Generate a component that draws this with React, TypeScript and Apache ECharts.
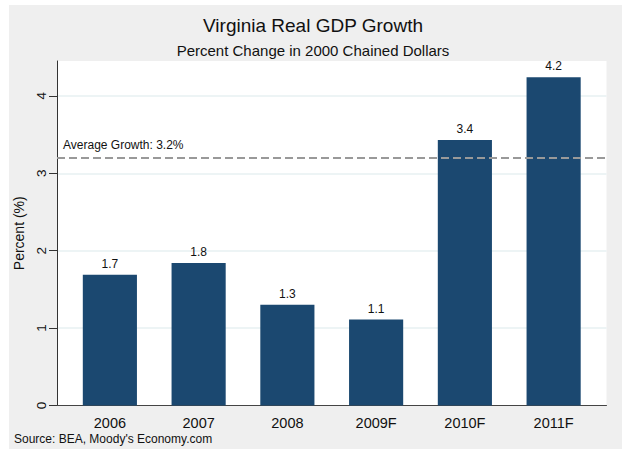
import React, { useEffect, useRef } from "react";
import * as echarts from "echarts";

const categories = ["2006", "2007", "2008", "2009F", "2010F", "2011F"];
const growth = [1.69, 1.84, 1.3, 1.11, 3.43, 4.24];
const averageGrowth = 3.2;
const yTicks = [0, 1, 2, 3, 4];
const titleText = "Virginia Real GDP Growth";
const subtitleText = "Percent Change in 2000 Chained Dollars";
const sourceText = "Source: BEA, Moody's Economy.com";
const yAxisName = "Percent (%)";

const FONT = "'Liberation Sans', Arial, Helvetica, sans-serif";
const Y_MAX = 4.45;

export default function App() {
  const ref = useRef<HTMLDivElement>(null);

  useEffect(() => {
    if (!ref.current) return;
    const chart = echarts.init(ref.current, null, { renderer: "svg" });
    chart.setOption({
      animation: false,
      backgroundColor: "transparent",
      textStyle: { fontFamily: FONT },
      graphic: [
        {
          type: "text",
          x: 313,
          y: 25,
          style: {
            text: titleText,
            fontFamily: FONT,
            fontSize: 19,
            fill: "#111",
            textAlign: "center",
            textVerticalAlign: "middle",
          },
        },
        {
          type: "text",
          x: 313,
          y: 50,
          style: {
            text: subtitleText,
            fontFamily: FONT,
            fontSize: 15,
            fill: "#111",
            textAlign: "center",
            textVerticalAlign: "middle",
          },
        },
        {
          type: "text",
          x: 14,
          y: 439,
          style: {
            text: sourceText,
            fontFamily: FONT,
            fontSize: 12,
            fill: "#111",
            textAlign: "left",
            textVerticalAlign: "middle",
          },
        },
      ],
      grid: [
        {
          left: 57,
          right: 19.5,
          top: 61,
          bottom: 43.5,
          show: true,
          backgroundColor: "#ffffff",
          borderWidth: 0,
        },
        {
          left: 65.5,
          right: 28,
          top: 61,
          bottom: 43.5,
        },
      ],
      xAxis: [
        {
          gridIndex: 0,
          type: "value",
          min: 0,
          max: 1,
          axisLine: { show: true, lineStyle: { color: "#444", width: 1 } },
          axisTick: { show: false },
          axisLabel: { show: false },
          splitLine: { show: false },
        },
        {
          gridIndex: 1,
          type: "category",
          data: categories,
          axisLine: { show: false },
          axisTick: { show: false },
          axisLabel: {
            color: "#111",
            fontSize: 14.5,
            fontFamily: FONT,
            margin: 10,
          },
        },
      ],
      yAxis: [
        {
          gridIndex: 0,
          type: "value",
          min: 0,
          max: Y_MAX,
          interval: 1,
          name: yAxisName,
          nameLocation: "middle",
          nameGap: 21,
          nameRotate: 90,
          nameTextStyle: { color: "#111", fontSize: 14, fontFamily: FONT },
          axisLine: { show: true, lineStyle: { color: "#333", width: 1 } },
          axisTick: {
            show: true,
            length: 8,
            lineStyle: { color: "#333" },
            customValues: yTicks,
          },
          axisLabel: {
            color: "#111",
            fontSize: 13.5,
            fontFamily: FONT,
            rotate: 90,
            margin: 9,
            customValues: yTicks,
          },
          splitLine: {
            show: true,
            showMinLine: false,
            lineStyle: { color: "#e7f0f2", width: 1.5 },
          },
        },
        {
          gridIndex: 1,
          type: "value",
          min: 0,
          max: Y_MAX,
          show: false,
        },
      ],
      series: [
        {
          type: "line",
          xAxisIndex: 0,
          yAxisIndex: 0,
          data: [],
          markLine: {
            silent: true,
            symbol: "none",
            lineStyle: { color: "#999", type: [8, 4], width: 2 },
            label: {
              show: true,
              position: "insideStartTop",
              distance: [6, 7],
              formatter: `Average Growth: ${averageGrowth.toFixed(1)}%`,
              color: "#111",
              fontSize: 12,
              fontFamily: FONT,
            },
            data: [{ yAxis: averageGrowth }],
          },
        },
        {
          type: "bar",
          xAxisIndex: 1,
          yAxisIndex: 1,
          data: growth,
          barWidth: "61%",
          itemStyle: { color: "#1b4870" },
          label: {
            show: true,
            position: "top",
            distance: 5,
            color: "#111",
            fontSize: 12,
            fontFamily: FONT,
            formatter: (p: any) => Number(p.value).toFixed(1),
          },
        },
      ],
    });
    return () => chart.dispose();
  }, []);

  return (
    <div
      style={{
        position: "absolute",
        left: 0,
        top: 0,
        width: 626,
        height: 449,
        background: "#ffffff",
        overflow: "hidden",
      }}
    >
      <div
        style={{
          position: "absolute",
          left: 9,
          top: 5,
          width: 613,
          height: 444,
          background: "#efefef",
        }}
      />
      <div
        ref={ref}
        style={{ position: "absolute", left: 0, top: 0, width: 626, height: 449 }}
      />
    </div>
  );
}
